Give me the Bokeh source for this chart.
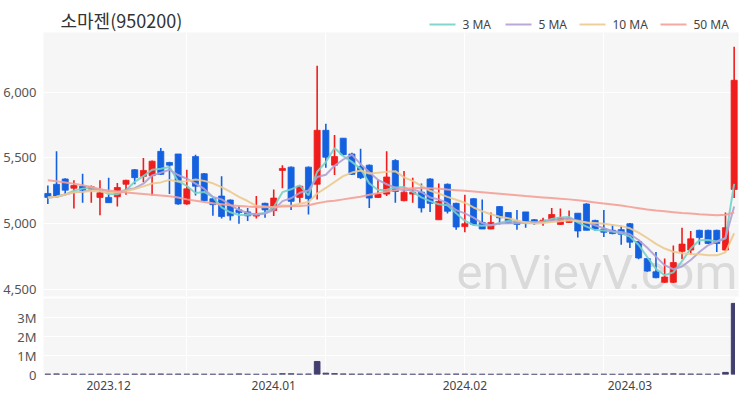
import numpy as np
import pandas as pd
from bokeh.plotting import figure
from bokeh.models import (ColumnDataSource, Range1d, FixedTicker, NumeralTickFormatter, Label)
from bokeh.layouts import column
from bokeh.embed import file_html
from bokeh.resources import INLINE

# ---------------- data ----------------
title_text = "소마젠(950200)"
tick_idx = [7, 26, 48, 67]
tick_labels = ["2023.12", "2024.01", "2024.02", "2024.03"]

opens = [5230, 5300, 5340, 5270, 5285, 5265, 5200, 5200, 5205, 5300,
         5410, 5360, 5365, 5550, 5465, 5530, 5150, 5510, 5380, 5190,
         5210, 5180, 5105, 5090, 5058, 5155, 5100, 5405, 5430, 5200,
         5430, 5300, 5710, 5445, 5650, 5530, 5435, 5445, 5200, 5225,
         5480, 5175, 5225, 5240, 5340, 5030, 5300, 5155, 4978, 5190,
         5010, 4960, 5130, 5085, 5020, 5090, 5030, 5012, 5027, 4995,
         5010, 5080, 5150, 5025, 4960, 4950, 4955, 5000, 4865, 4735,
         4635, 4555, 4555, 4790, 4800, 4950, 4950, 4950, 4800, 5260]
highs = [5290, 5550, 5345, 5330, 5380, 5290, 5330, 5350, 5310, 5335,
         5415, 5500, 5480, 5575, 5470, 5530, 5410, 5525, 5385, 5195,
         5360, 5185, 5135, 5120, 5210, 5160, 5260, 5445, 5435, 5290,
         5435, 6200, 5760, 5675, 5650, 5540, 5570, 5450, 5335, 5550,
         5490, 5400, 5350, 5305, 5345, 5305, 5305, 5160, 5220, 5195,
         5185, 5085, 5135, 5085, 5105, 5090, 5035, 5045, 5120, 5115,
         5100, 5080, 5155, 5030, 5105, 4995, 4985, 5005, 4865, 4740,
         4785, 4735, 4835, 4970, 4945, 4955, 4955, 4955, 5085, 6345]
lows = [5150, 5195, 5220, 5115, 5160, 5160, 5065, 5160, 5130, 5220,
        5300, 5315, 5215, 5370, 5225, 5145, 5145, 5215, 5165, 5060,
        5040, 5025, 5000, 5020, 5040, 5045, 5058, 5270, 5105, 5160,
        5070, 5185, 5425, 5370, 5520, 5370, 5340, 5120, 5195, 5210,
        5160, 5170, 5160, 5085, 5090, 5030, 5078, 4955, 4935, 4985,
        4960, 4958, 4995, 5000, 4955, 4970, 4990, 4985, 5015, 4990,
        5005, 4895, 4950, 4945, 4900, 4920, 4840, 4815, 4730, 4635,
        4585, 4550, 4550, 4730, 4765, 4840, 4845, 4785, 4795, 5195]
closes = [5200, 5210, 5255, 5290, 5255, 5280, 5235, 5160, 5275, 5330,
          5350, 5405, 5475, 5375, 5445, 5150, 5265, 5285, 5175, 5145,
          5055, 5060, 5085, 5060, 5078, 5105, 5195, 5420, 5170, 5285,
          5190, 5710, 5505, 5510, 5525, 5375, 5350, 5195, 5225, 5355,
          5245, 5240, 5240, 5120, 5155, 5170, 5095, 4975, 5000, 4995,
          4960, 5010, 5045, 5005, 4995, 5010, 5012, 5027, 5070, 5045,
          5040, 4945, 4950, 4960, 4935, 4925, 4920, 4860, 4740, 4640,
          4590, 4595, 4705, 4845, 4885, 4895, 4850, 4850, 4970, 6090]
volumes = [22000, 30000, 18000, 20000, 17000, 15000, 21000, 16000, 19000, 17000,
           20000, 24000, 23000, 26000, 18000, 22000, 19000, 21000, 17000, 16000,
           20000, 18000, 32000, 15000, 14000, 16000, 18000, 42000, 38000, 20000,
           26000, 690000, 70000, 45000, 30000, 22000, 20000, 24000, 17000, 26000,
           22000, 18000, 16000, 20000, 21000, 19000, 18000, 25000, 20000, 17000,
           15000, 14000, 18000, 15000, 16000, 14000, 12000, 13000, 17000, 15000,
           14000, 22000, 24000, 15000, 18000, 13000, 16000, 20000, 24000, 22000,
           26000, 30000, 34000, 28000, 24000, 20000, 18000, 22000, 110000, 3760000]
ma50 = [5330, 5322, 5313, 5303, 5292, 5280, 5262, 5252, 5245, 5238,
        5232, 5226, 5220, 5214, 5208, 5200, 5185, 5175, 5165, 5155,
        5148, 5140, 5135, 5130, 5126, 5126, 5128, 5130, 5132, 5134,
        5140, 5155, 5168, 5175, 5185, 5195, 5205, 5220, 5232, 5245,
        5255, 5265, 5270, 5272, 5270, 5266, 5260, 5255, 5250, 5245,
        5240, 5234, 5228, 5222, 5216, 5210, 5205, 5200, 5195, 5190,
        5185, 5178, 5170, 5162, 5154, 5146, 5138, 5128, 5118, 5108,
        5100, 5094, 5088, 5082, 5077, 5072, 5068, 5064, 5068, 5085]
ma_labels = ["3 MA", "5 MA", "10 MA", "50 MA"]

# ---------------- styles ----------------
RED = "#f01d1d"
BLUE = "#1461e0"
VOL = "#403f6e"
MA_COLORS = ["#74d3c8", "#b3a0d4", "#ecca8f", "#f5a097"]
BG = "#f6f6f6"
TFONT = "Noto Sans CJK KR"
FONT = "Noto Sans"

n = len(closes)
df = pd.DataFrame(dict(x=list(range(n)), open=opens, high=highs, low=lows,
                       close=closes, volume=volumes))
df["top"] = df[["open", "close"]].max(axis=1)
df["bottom"] = df[["open", "close"]].min(axis=1)
df["color"] = np.where(df["close"] >= df["open"], RED, BLUE)
cs = pd.Series(closes, dtype=float)
df["ma3"] = cs.rolling(3, min_periods=1).mean()
df["ma5"] = cs.rolling(5, min_periods=1).mean()
df["ma10"] = cs.rolling(10, min_periods=1).mean()
df["ma50"] = ma50
src = ColumnDataSource(df)
ma_cols = ["ma3", "ma5", "ma10", "ma50"]

xr = Range1d(-0.5, n - 0.5)
FW = 695
LB = 38
RB = 2
HEAD = 32

# ---------------- header (title + legend key) ----------------
p0 = figure(frame_width=FW, frame_height=HEAD, x_range=Range1d(0, FW), y_range=Range1d(0, HEAD),
            output_backend="svg", toolbar_location=None, title=None,
            x_axis_location=None, y_axis_location=None,
            min_border_left=LB, min_border_right=RB, min_border_top=0, min_border_bottom=0)
p0.outline_line_color = None
p0.background_fill_color = "white"
p0.border_fill_color = "white"
p0.xgrid.visible = False
p0.ygrid.visible = False
p0.add_layout(Label(x=17, y=13, x_units="screen", y_units="screen", text=title_text,
                    text_font=TFONT, text_font_size="18px",
                    text_color="#333333", text_baseline="middle"))

# legend key laid out in header pixels (swatch start, swatch length, text gap)
key_x = [386, 462, 536, 617]
KEY_LEN, KEY_GAP, KEY_Y = 26, 7, 8
p0.segment(x0=key_x, x1=[k + KEY_LEN for k in key_x], y0=[KEY_Y] * 4, y1=[KEY_Y] * 4,
           line_color=MA_COLORS, line_width=2, line_alpha=0.9)
for k, lab in zip(key_x, ma_labels):
    p0.add_layout(Label(x=k + KEY_LEN + KEY_GAP, y=KEY_Y, x_units="screen", y_units="screen",
                        text=lab, text_font=FONT, text_font_size="12px",
                        text_color="#444444", text_baseline="middle"))

# ---------------- price panel ----------------
p1 = figure(frame_width=FW, frame_height=264, x_range=xr, y_range=Range1d(4447, 6453),
            output_backend="svg", toolbar_location=None, x_axis_location=None, title=None,
            min_border_left=LB, min_border_right=RB, min_border_top=0, min_border_bottom=2)
p1.background_fill_color = BG
p1.border_fill_color = "white"
p1.outline_line_color = None
p1.xgrid.ticker = FixedTicker(ticks=[16, 32, 48, 64])
p1.xgrid.grid_line_color = "white"
p1.ygrid.grid_line_color = "white"
p1.ygrid.grid_line_width = 1
ya = p1.yaxis[0]
ya.ticker = FixedTicker(ticks=[4500, 5000, 5500, 6000])
ya.formatter = NumeralTickFormatter(format="0,0")
ya.axis_line_color = None
ya.major_tick_line_color = None
ya.minor_tick_line_color = None
ya.major_label_standoff = 1
ya.major_label_text_font = FONT
ya.major_label_text_font_size = "13px"
ya.major_label_text_color = "#555555"

wm = Label(x=413, y=-4, x_units="screen", y_units="screen", text="enVievV.com",
           text_font="Roboto", text_font_size="49px", text_color="#dadada",
           text_baseline="bottom", level="underlay")
p1.add_layout(wm)

p1.segment(x0="x", y0="low", x1="x", y1="high", source=src, line_color="color", line_width=1.6)
p1.vbar(x="x", width=0.7, top="top", bottom="bottom", source=src,
        fill_color="color", line_color="color", line_width=0.8)

for col, c in zip(ma_cols, MA_COLORS):
    p1.line(x="x", y=col, source=src, line_color=c, line_width=2, line_alpha=0.9)

# ---------------- volume panel ----------------
p2 = figure(frame_width=FW, frame_height=76, x_range=xr, y_range=Range1d(0, 4.02e6),
            output_backend="svg", toolbar_location=None, title=None,
            min_border_left=LB, min_border_right=RB, min_border_top=0, min_border_bottom=0)
p2.background_fill_color = BG
p2.border_fill_color = "white"
p2.outline_line_color = None
p2.xgrid.ticker = FixedTicker(ticks=[16, 32, 48, 64])
p2.xgrid.grid_line_color = "white"
p2.ygrid.grid_line_color = "white"
va = p2.yaxis[0]
va.ticker = FixedTicker(ticks=[0, 1000000, 2000000, 3000000])
va.major_label_overrides = {0: "0", 1000000: "1M", 2000000: "2M", 3000000: "3M"}
va.axis_line_color = None
va.major_tick_line_color = None
va.minor_tick_line_color = None
va.major_label_standoff = 1
va.major_label_text_font = FONT
va.major_label_text_font_size = "13px"
va.major_label_text_color = "#555555"
xa = p2.xaxis[0]
xa.ticker = FixedTicker(ticks=tick_idx)
xa.major_label_overrides = {i: t for i, t in zip(tick_idx, tick_labels)}
xa.axis_line_color = None
xa.major_tick_line_color = None
xa.minor_tick_line_color = None
xa.major_label_standoff = 0
xa.major_label_text_font = FONT
xa.major_label_text_font_size = "12px"
xa.major_label_text_color = "#444444"

p2.vbar(x="x", width=0.65, top="volume", bottom=0, source=src,
        fill_color=VOL, line_color=VOL)

layout = column(p0, p1, p2, spacing=0)
open("out.html", "w").write(file_html(layout, INLINE))
